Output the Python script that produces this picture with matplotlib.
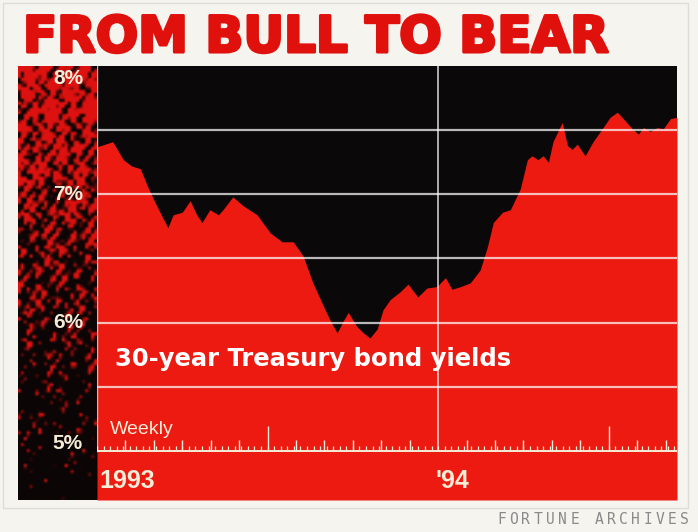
import numpy as np
import matplotlib
matplotlib.use("Agg")
import matplotlib.pyplot as plt
import matplotlib.patheffects as pe
from matplotlib.patches import Rectangle
from matplotlib.transforms import blended_transform_factory

# weeks since start of 1993 and 30-year Treasury yield (%)
weeks = [0.0, 2.4, 4.0, 5.3, 6.6, 7.8, 9.1, 10.8, 11.6, 13.0, 14.2, 15.2, 16.0,
         17.2, 18.5, 19.2, 20.7, 22.3, 24.4, 26.4, 28.2, 29.9, 31.4, 32.9, 34.5,
         35.5, 36.6, 37.5, 38.3, 39.6, 40.6, 41.6, 42.7, 43.6, 44.7, 46.2, 47.4,
         48.9, 50.3, 51.8, 53.1, 54.1, 55.4, 56.9, 58.4, 59.5, 60.4, 61.8, 63.0,
         64.5, 65.6, 66.3, 67.2, 68.0, 68.8, 69.5, 70.9, 71.7, 72.4, 73.2, 74.4,
         75.6, 77.0, 78.2, 79.3, 80.2, 81.6, 82.5, 83.3, 84.3, 85.4, 86.3, 87.4,
         88.4]
yields = [7.37, 7.41, 7.27, 7.22, 7.20, 7.05, 6.91, 6.74, 6.84, 6.86, 6.95, 6.84,
          6.78, 6.88, 6.84, 6.88, 6.98, 6.91, 6.84, 6.70, 6.63, 6.63, 6.52, 6.31,
          6.13, 6.02, 5.92, 6.01, 6.08, 5.97, 5.92, 5.88, 5.95, 6.10, 6.18, 6.24,
          6.30, 6.20, 6.27, 6.28, 6.35, 6.26, 6.28, 6.31, 6.41, 6.59, 6.78, 6.86,
          6.88, 7.04, 7.27, 7.30, 7.27, 7.30, 7.25, 7.41, 7.56, 7.38, 7.35, 7.39,
          7.30, 7.41, 7.51, 7.60, 7.64, 7.59, 7.51, 7.47, 7.52, 7.49, 7.52, 7.51,
          7.59, 7.60]

y_tick_labels = ['8%', '7%', '6%', '5%']
label_y = [7.905, 7.0, 6.0, 5.06]
grid_levels = [5.5, 6.0, 6.5, 7.0, 7.5]

RED = '#ec1a10'
CREAM = '#f4ecd6'
BG = '#f5f4ef'

W, H = 698, 532
fig = plt.figure(figsize=(W / 100, H / 100), dpi=100, facecolor=BG)

def px_rect(x0, y0, x1, y1):
    # pixel box (top-left origin) -> figure fraction
    return [x0 / W, 1 - y1 / H, (x1 - x0) / W, (y1 - y0) / H]

# faint frame round the whole graphic
fig.patches.append(Rectangle((3 / W, 1 - 508 / H), 685 / W, 505 / H,
                             transform=fig.transFigure, fill=False,
                             edgecolor='#dcdcd8', lw=1))

# left strip: black with red mottled texture (decoration only)
axs = fig.add_axes(px_rect(18, 66, 97, 500))
yy, xx = np.mgrid[0:145, 0:27].astype(float)
n = (np.sin(xx * 0.9 + np.sin(yy * 0.45) * 1.5) * np.cos(yy * 0.6 + np.sin(xx * 0.5) * 1.3)
     + 0.5 * np.sin(xx * 1.9 + yy * 1.3) + 0.3 * np.cos(xx * 1.4 - yy * 2.1))
thr = np.linspace(-0.6, 1.35, 145)[:, None]
mix = np.clip((n - thr) * 2.2 + 0.5, 0, 1)
img = np.zeros((145, 27, 3))
img[..., 0] = 0.05 + mix * 0.82
img[..., 1] = 0.02 + mix * 0.05
img[..., 2] = 0.02 + mix * 0.04
axs.imshow(img, aspect='auto', interpolation='bilinear')
axs.set_axis_off()

# main chart
ax = fig.add_axes(px_rect(97, 66, 677, 500))
ax.set_facecolor('#0a0808')
ax.set_xlim(0, 88.4)
ax.set_ylim(4.617, 8.0)
ax.fill_between(weeks, yields, 4.617, color=RED, lw=0, zorder=1)

for g in grid_levels:
    ax.axhline(g, color='white', alpha=0.72, lw=1.6, zorder=2)
axis_frac = (5 - 4.617) / (8 - 4.617)
ax.axvline(52, ymin=axis_frac, ymax=1, color='white', alpha=0.85, lw=1.1, zorder=3)
ax.axvline(0.05, ymin=axis_frac, ymax=1, color='#dde8f0', alpha=0.8, lw=1.0, zorder=3)

# weekly axis with ticks
ax.axhline(5.0, color=CREAM, lw=1.4, zorder=3)
wk = np.arange(0, 89)
ax.vlines(wk, 5.0, 5.035, color=CREAM, lw=0.9, zorder=3)
for yr in (0, 52):
    for m in range(1, 12):
        w = yr + m * 52 / 12
        if w > 88.4:
            continue
        ax.vlines(w, 5.0, 5.19 if m == 6 else 5.085, color=CREAM, lw=1.0, zorder=3)

for s in ax.spines.values():
    s.set_visible(False)
ax.set_xticks([])
ax.set_yticks([])

# y labels on the textured strip
tr = blended_transform_factory(ax.transAxes, ax.transData)
for v, lab in zip(label_y, y_tick_labels):
    ax.text(-14 / 580, v, lab, transform=tr, ha='right', va='center',
            fontsize=15, fontweight='bold', color=CREAM, family='Liberation Sans',
            clip_on=False)

ax.text(2.7, 5.66, '30-year Treasury bond yields', fontsize=17.5, fontweight='bold',
        color='white', family='DejaVu Sans', va='baseline', zorder=4)
ax.text(2.0, 5.13, 'Weekly', fontsize=14, color=CREAM, family='Liberation Sans',
        va='baseline', zorder=4)
ax.text(0.4, 4.71, '1993', fontsize=18, fontweight='bold', color=CREAM,
        family='Liberation Sans', va='baseline', zorder=4)
ax.text(51.6, 4.71, "'94", fontsize=18, fontweight='bold', color=CREAM,
        family='Liberation Sans', va='baseline', zorder=4)

title_red = '#e0100c'
fig.text(23 / W, 1 - 52 / H, 'FROM BULL TO BEAR', fontsize=36, fontweight='bold',
         color=title_red, family='DejaVu Sans', va='baseline', ha='left',
         path_effects=[pe.withStroke(linewidth=2.2, foreground=title_red)])

# credit, letter-spaced
credit = 'FORTUNE ARCHIVES'
for i, ch in enumerate(credit):
    fig.text((497 + i * 12.2) / W, 1 - 524 / H, ch, fontsize=10.5, color='#8a8a8a',
             family='DejaVu Sans Mono', va='baseline', ha='left')

fig.savefig('out.png', dpi=100, facecolor=BG)
